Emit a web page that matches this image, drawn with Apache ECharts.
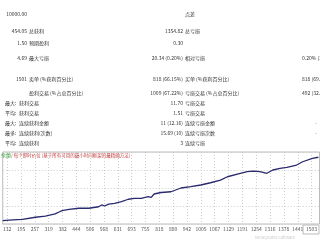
<!DOCTYPE html>
<html><head><meta charset="utf-8">
<script src="https://cdn.jsdelivr.net/npm/echarts@6/dist/echarts.min.js"></script>
<style>html,body{margin:0;padding:0;background:#fff}#c{width:320px;height:240px}</style>
</head><body><div id="c"></div>
<script>
// trade numbers and balance values
var trades = [112,157,201,259,304,348,366,379,411,455,500,544,558,571,589,616,647,678,705,736,767,781,794,825,870,915,959,1004,1048,1093,1124,1182,1213,1240,1271,1302,1329,1361,1392,1436,1463,1507,1534];
var balance = [10022,10027,10031,10045,10053,10067,10080,10089,10098,10105,10105,10115,10127,10120,10133,10138,10149,10165,10171,10171,10182,10177,10200,10210,10215,10240,10249,10260,10275,10293,10315,10338,10349,10353,10349,10338,10360,10371,10378,10393,10415,10438,10445];
var tickLabels = [132,195,257,319,382,444,506,568,631,693,755,818,880,942,1005,1067,1129,1191,1254,1316,1378,1441,1503];

// report table texts: [text, x, y, align]
var reportTexts = [
  ['10000.00',27,14,'right'],['点差',185,14,'left'],
  ['454.05',27,31,'right'],['总获利',29,31,'left'],['1354.82',183,31,'right'],['总亏损',185,31,'left'],
  ['1.50',27,43,'right'],['预期盈利',29,43,'left'],['0.30',183,43,'right'],
  ['4.69',27,58,'right'],['最大亏损',29,58,'left'],['20.34 (0.20%)',183,58,'right'],['相对亏损',185,58,'left'],['0.20% (20.34)',302,58,'left'],
  ['1501',27,79,'right'],['卖单 (%获利百分比)',29,79,'left'],['818 (66.15%)',183,79,'right'],['买单 (%获利百分比)',185,79,'left'],['818 (69.44%)',302,79,'left'],
  ['盈利交易 (%占总百分比)',29,93,'left'],['1009 (67.22%)',183,93,'right'],['亏损交易 (%占总百分比)',185,93,'left'],['492 (32.78%)',302,93,'left'],
  ['最大:',5,103,'left'],['获利交易',19,103,'left'],['11.70',183,103,'right'],['亏损交易',185,103,'left'],
  ['平均:',5,113,'left'],['获利交易',19,113,'left'],['1.51',183,113,'right'],['亏损交易',185,113,'left'],
  ['最大:',5,123,'left'],['连续获利金额',19,123,'left'],['11 (12.16)',183,123,'right'],['连续亏损金额',185,123,'left'],['-',315,123,'left'],
  ['最多:',5,133,'left'],['连续获利(次数)',19,133,'left'],['15.69 (10)',183,133,'right'],['连续亏损次数',185,133,'left'],['-',315,133,'left'],
  ['平均:',5,143,'left'],['连续获利',19,143,'left'],['3',183,143,'right'],['连续亏损',185,143,'left']
];

var font = '"Noto Sans CJK SC", "DejaVu Sans", sans-serif';
var graphics = reportTexts.map(function(t){
  return {type:'text', x:t[1], y:t[2], style:{text:t[0], fill:'#333', font:'5px '+font, textAlign:t[3], textVerticalAlign:'middle'}};
});
graphics.push({type:'text', x:1, y:155, style:{text:'余额', fill:'#2a9a2a', font:'5px '+font, textVerticalAlign:'middle'}});
graphics.push({type:'text', x:11, y:155, style:{text:'/ 每个即时价位 (基于所有可用的最小时间框架的最精确方法)', fill:'#c04040', font:'4.5px '+font, textVerticalAlign:'middle'}});
graphics.push({type:'text', x:255, y:237, style:{text:'MetaQuotes Software', fill:'#ccc', font:'4px '+font, textVerticalAlign:'middle'}});
graphics.push({type:'rect', shape:{x:303, y:225, width:16, height:9}, style:{fill:'none', stroke:'#bbb', lineWidth:1}});

var chart = echarts.init(document.getElementById('c'));
chart.setOption({
  animation:false,
  backgroundColor:'#fff',
  grid:{left:0, right:0, top:152, bottom:16, show:true, borderColor:'#bbb', borderWidth:1},
  xAxis:{type:'value', min:112, max:1539,
    axisLine:{show:false},
    axisTick:{show:false, customValues:tickLabels},
    axisLabel:{customValues:tickLabels, fontSize:5, color:'#555', margin:3, fontFamily:font,
      formatter:function(v){return String(v);}},
    splitLine:{show:true, lineStyle:{color:'#ccc', type:[1,2], width:1}}
  },
  yAxis:{type:'value', min:10000, max:10480, interval:120,
    axisLine:{show:false}, axisTick:{show:false}, axisLabel:{show:false},
    splitLine:{show:true, lineStyle:{color:'#ccc', type:[1,2], width:1}}
  },
  series:[{type:'line', data:trades.map(function(t,i){return [t,balance[i]];}), showSymbol:false,
    lineStyle:{color:'#2a2a6e', width:1.3}}],
  graphic:graphics
});
</script></body></html>
